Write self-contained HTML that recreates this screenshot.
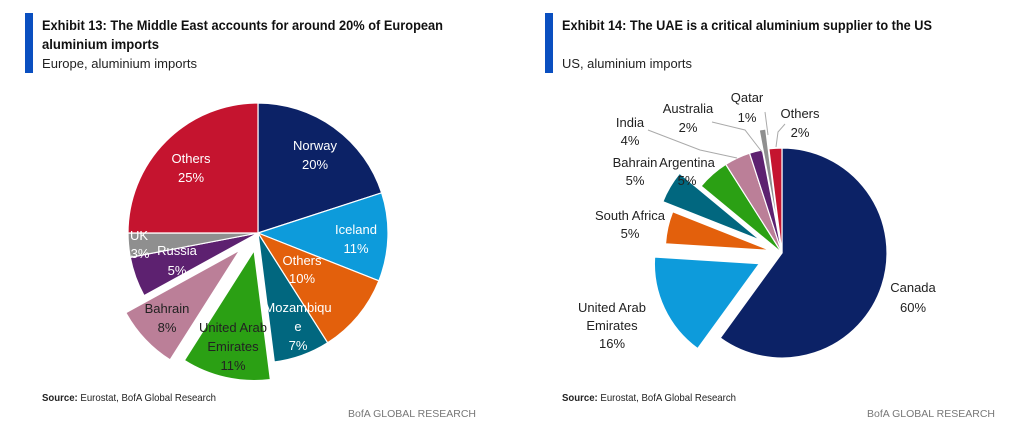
<!DOCTYPE html>
<html><head><meta charset="utf-8">
<style>
html,body{margin:0;padding:0;background:#fff;}
svg{display:block;font-family:"Liberation Sans",sans-serif;}
</style></head>
<body>
<svg id="c" width="1024" height="422" viewBox="0 0 1024 422" xmlns="http://www.w3.org/2000/svg">
  <rect x="0" y="0" width="1024" height="422" fill="#fff"/>
  <!-- Left header -->
  <rect x="25" y="13" width="8" height="60" fill="#0a4fc0"/>
  <text x="42" y="30" font-size="13.5" font-weight="bold" fill="#111" textLength="401" lengthAdjust="spacingAndGlyphs">Exhibit 13: The Middle East accounts for around 20% of European</text>
  <text x="42" y="49" font-size="13.5" font-weight="bold" fill="#111" textLength="117" lengthAdjust="spacingAndGlyphs">aluminium imports</text>
  <text x="42" y="68" font-size="13" fill="#222" textLength="155" lengthAdjust="spacingAndGlyphs">Europe, aluminium imports</text>
  <!-- Right header -->
  <rect x="545" y="13" width="8" height="60" fill="#0a4fc0"/>
  <text x="562" y="30" font-size="13.5" font-weight="bold" fill="#111" textLength="370" lengthAdjust="spacingAndGlyphs">Exhibit 14: The UAE is a critical aluminium supplier to the US</text>
  <text x="562" y="68" font-size="13" fill="#222" textLength="130" lengthAdjust="spacingAndGlyphs">US, aluminium imports</text>
  <!-- Footers -->
  <text x="42" y="401" font-size="10.5" fill="#222" textLength="174" lengthAdjust="spacingAndGlyphs"><tspan font-weight="bold">Source:</tspan> Eurostat, BofA Global Research</text>
  <text x="476" y="417" font-size="10.5" fill="#777" text-anchor="end">BofA GLOBAL RESEARCH</text>
  <text x="562" y="401" font-size="10.5" fill="#222" textLength="174" lengthAdjust="spacingAndGlyphs"><tspan font-weight="bold">Source:</tspan> Eurostat, BofA Global Research</text>
  <text x="995" y="417" font-size="10.5" fill="#777" text-anchor="end">BofA GLOBAL RESEARCH</text>
  <g id="leftPie"></g>
  <g id="rightPie"></g>
  <g id="labels">
    <!-- Left labels -->
    <g font-size="13" text-anchor="middle" fill="#fff">
      <text x="315" y="150">Norway</text><text x="315" y="169">20%</text>
      <text x="356" y="234">Iceland</text><text x="356" y="253">11%</text>
      <text x="302" y="265">Others</text><text x="302" y="283">10%</text>
      <text x="298" y="312">Mozambiqu</text><text x="298" y="331">e</text><text x="298" y="350">7%</text>
      <text x="177" y="255">Russia</text><text x="177" y="275">5%</text>
      <text x="139" y="240">UK</text><text x="140" y="258">3%</text>
      <text x="191" y="163">Others</text><text x="191" y="182">25%</text>
    </g>
    <g font-size="13" text-anchor="middle" fill="#222">
      <text x="233" y="332">United Arab</text><text x="233" y="351">Emirates</text><text x="233" y="370">11%</text>
      <text x="167" y="313">Bahrain</text><text x="167" y="332">8%</text>
    </g>
    <!-- Right labels -->
    <g stroke="#aaa" stroke-width="1" fill="none">
      <polyline points="648,130 700,150 737,158"/>
      <polyline points="712,122 745,130 762,152"/>
      <polyline points="765,112 768,135"/>
      <polyline points="785,124 778,132 776,147"/>
    </g>
    <g font-size="13" text-anchor="middle" fill="#222">
      <text x="747" y="102">Qatar</text><text x="747" y="122">1%</text>
      <text x="688" y="113">Australia</text><text x="688" y="132">2%</text>
      <text x="630" y="127">India</text><text x="630" y="145">4%</text>
      <text x="800" y="118">Others</text><text x="800" y="137">2%</text>
      <text x="635" y="167">Bahrain</text><text x="635" y="185">5%</text>
      <text x="687" y="167">Argentina</text><text x="687" y="185">5%</text>
      <text x="630" y="220">South Africa</text><text x="630" y="238">5%</text>
      <text x="612" y="312">United Arab</text><text x="612" y="330">Emirates</text><text x="612" y="348">16%</text>
      <text x="913" y="292">Canada</text><text x="913" y="312">60%</text>
    </g>
  </g>
</svg>
<script>
const euCategories = ["Norway","Iceland","Others (10%)","Mozambique","United Arab Emirates","Bahrain","Russia","UK","Others (25%)"];
const euValues = [20,11,10,7,11,8,5,3,25];
const euColors = ["#0c2266","#0d9bdb","#e3600c","#01677f","#2ba014","#bb7f98","#5d2170","#8f8f8f","#c5142f"];
const euExplode = [0,0,0,0,18,25,0,0,0];

const usCategories = ["Canada","United Arab Emirates","South Africa","Bahrain","Argentina","India","Australia","Qatar","Others"];
const usValues = [60,16,5,5,5,4,2,1,2];
const usColors = ["#0c2266","#0d9bdb","#e3600c","#01677f","#2ba014","#bb7f98","#5d2170","#8f8f8f","#c5142f"];
const usExplode = [0,25,12,25,0,0,0,20,0];

const NS = "http://www.w3.org/2000/svg";
function angleScale(v, total){ return v/total*2*Math.PI; }
function drawPie(gId, cx, cy, r, cats, vals, cols, expl, prefix){
  const g = document.getElementById(gId);
  const total = vals.reduce((a,b)=>a+b,0);
  let a0 = 0;
  vals.forEach((v,i)=>{
    const a1 = a0 + angleScale(v,total);
    const mid = (a0+a1)/2;
    const ox = Math.sin(mid)*expl[i], oy = -Math.cos(mid)*expl[i];
    const x0 = cx+ox+Math.sin(a0)*r, y0 = cy+oy-Math.cos(a0)*r;
    const x1 = cx+ox+Math.sin(a1)*r, y1 = cy+oy-Math.cos(a1)*r;
    const large = (a1-a0)>Math.PI?1:0;
    const p = document.createElementNS(NS,"path");
    p.setAttribute("d",`M${cx+ox},${cy+oy} L${x0},${y0} A${r},${r} 0 ${large} 1 ${x1},${y1} Z`);
    p.setAttribute("fill",cols[i]);
    p.setAttribute("stroke","#fff");
    p.setAttribute("stroke-width","1.2");
    
    
    g.appendChild(p);
    a0 = a1;
  });
}
drawPie("leftPie",258,233,130,euCategories,euValues,euColors,euExplode,"eu");
drawPie("rightPie",782,253,105,usCategories,usValues,usColors,usExplode,"us");
</script>
</body></html>
